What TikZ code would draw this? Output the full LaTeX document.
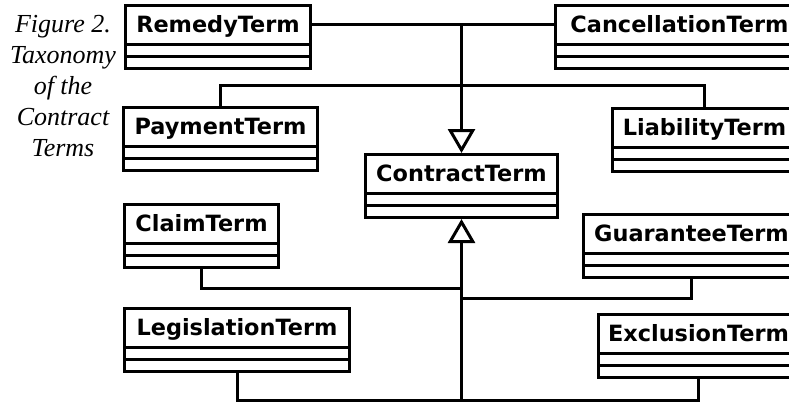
\documentclass[tikz,border=0pt]{standalone}
\usepackage{fontspec}
\usetikzlibrary{shapes.multipart, arrows.meta}
\newfontfamily\clsfont{DejaVu Sans}
\newfontfamily\capfont{Liberation Serif}
\newcommand{\clsname}[1]{\rule[-10.5pt]{0pt}{36pt}#1\nodepart{two}\rule{0pt}{9pt}\nodepart{three}\rule{0pt}{9pt}}

\begin{document}
\begin{tikzpicture}[x=1pt, y=-1pt,
    cls/.style={rectangle split, rectangle split parts=3, draw, line width=3pt,
      inner xsep=0pt, inner ysep=0pt,
      anchor=north west, font=\clsfont\bfseries\fontsize{22.4}{27}\selectfont},
    link/.style={line width=3pt},
    gen/.style={link, -{Triangle[open, length=24pt, width=27pt]}}]
        \clip (0,0) rectangle (789,405);

        \coordinate (busA) at (0,85);
        \coordinate (busB) at (0,288);
        \coordinate (busC) at (0,298);
        \coordinate (busD) at (0,400);

        \node[align=center, font=\capfont\itshape\fontsize{26}{30.8}\selectfont] (cap) at (63,86)
            {Figure 2.\\Taxonomy\\of the\\Contract\\Terms};

        \node[cls, minimum width=185] (remedy) at (124,4) {\clsname{RemedyTerm}};
        \node[cls, minimum width=248] (cancel) at (554,4) {\clsname{CancellationTerm}};
        \node[cls, minimum width=194] (pay) at (122,106) {\clsname{PaymentTerm}};
        \node[cls, minimum width=184] (liab) at (611,107) {\clsname{LiabilityTerm}};
        \node[cls, minimum width=192] (ct) at (364,153) {\clsname{ContractTerm}};
        \node[cls, minimum width=154] (claim) at (123,203) {\clsname{ClaimTerm}};
        \node[cls, minimum width=216] (guar) at (582,213) {\clsname{GuaranteeTerm}};
        \node[cls, minimum width=225] (legis) at (123,307) {\clsname{LegislationTerm}};
        \node[cls, minimum width=200] (excl) at (597,313) {\clsname{ExclusionTerm}};

        \coordinate (J1) at (ct.north |- 0,24);

        \draw[link] (remedy.east |- J1) -- (cancel.west |- J1);
        \draw[gen] (J1) -- (ct.north);
        \draw[link] (pay.north) -- (pay.north |- busA) -- (liab.north |- busA) -- (liab.north);

        \draw[link] (claim.south) -- (claim.south |- busB) -- (ct.south |- busB);
        \draw[link] (guar.south) -- (guar.south |- busC) -- (ct.south |- busC);
        \draw[link] (legis.south) -- (legis.south |- busD) -- (excl.south |- busD) -- (excl.south);
        \draw[gen] (ct.south |- busD) -- (ct.south);
\end{tikzpicture}
\end{document}
